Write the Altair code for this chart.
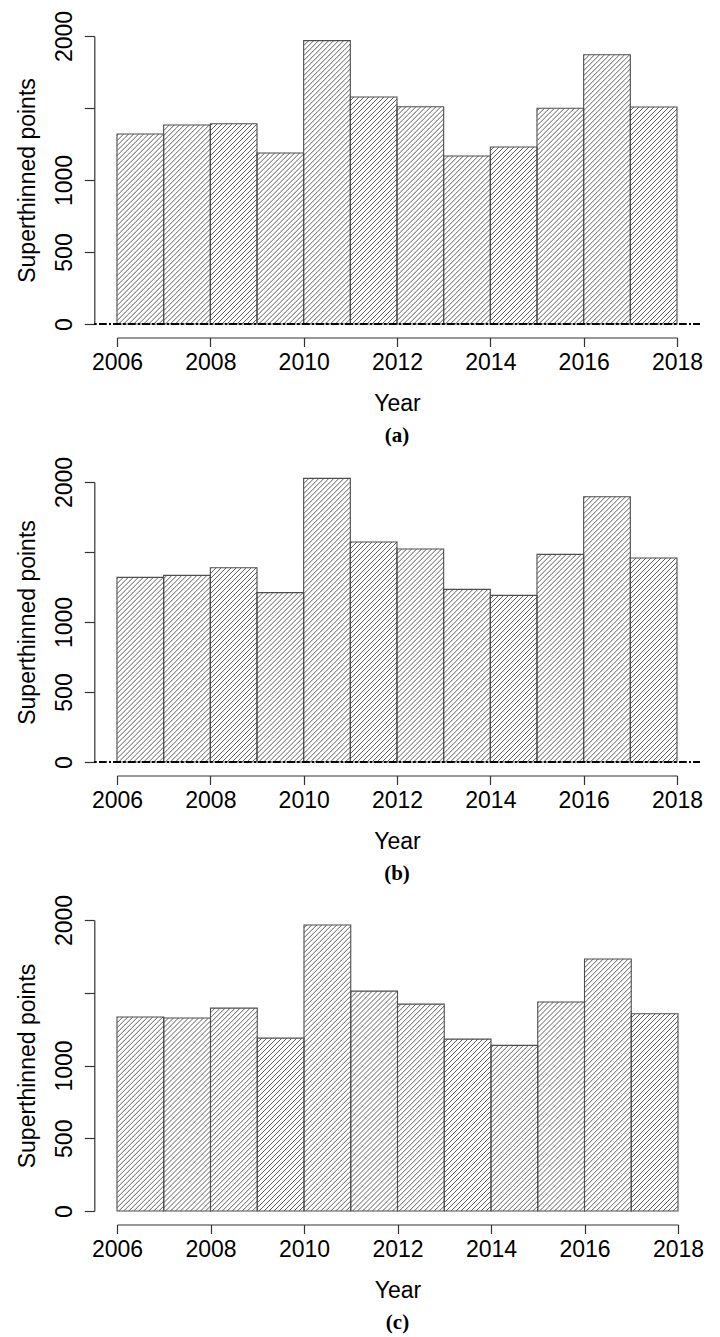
import altair as alt
import pandas as pd

# ---- data ----
years = [2006, 2007, 2008, 2009, 2010, 2011, 2012, 2013, 2014, 2015, 2016, 2017]
values_a = [1319, 1382, 1391, 1188, 1968, 1576, 1509, 1167, 1229, 1498, 1870, 1507]
values_b = [1319, 1333, 1388, 1210, 2026, 1571, 1521, 1233, 1190, 1483, 1895, 1457]
values_c = [1333, 1326, 1394, 1188, 1966, 1511, 1422, 1181, 1138, 1436, 1732, 1356]
x_ticks = [2006, 2008, 2010, 2012, 2014, 2016, 2018]
y_ticks = [0, 500, 1000, 1500, 2000]
captions = ["a", "b", "c"]

X_MIN, X_MAX = 2006, 2018
Y_MIN, Y_MAX = 0, 2000
HATCH_SPACING = 5.0  # px between hatch lines (horizontal)

FONT = "Liberation Sans"
INK = "#4d4d4d"


def panel(vals, letter, w, h, dash):
    df = pd.DataFrame({"year": years, "value": vals})
    df["end"] = df["year"] + 1
    kx = w / (X_MAX - X_MIN)
    ky = h / (Y_MAX - Y_MIN)

    xs = alt.Scale(domain=[X_MIN, X_MAX], nice=False, zero=False)
    ys = alt.Scale(domain=[Y_MIN, Y_MAX], nice=False, zero=False)
    xaxis = alt.Axis(values=x_ticks, format="d", offset=13.5, tickSize=9,
                     labelPadding=5, titlePadding=18, labelFlush=False,
                     labelOverlap=False, grid=False)
    yaxis = alt.Axis(values=y_ticks, format="d", offset=22.7, tickSize=10,
                     labelAngle=270, labelAlign="center", labelBaseline="alphabetic",
                     labelPadding=13, titlePadding=14, labelOverlap=False,
                     labelExpr="datum.value == 1500 ? '' : datum.label", grid=False)

    base = alt.Chart(df)
    s = HATCH_SPACING
    hatch = (
        base.transform_calculate(W=f"{kx}")
        .transform_calculate(H=f"datum.value * {ky}")
        .transform_calculate(k=f"sequence(0, ceil((datum.W + datum.H) / {s}) + 2)")
        .transform_flatten(["k"])
        .transform_calculate(c=f"-datum.W + datum.k * {s}")
        .transform_calculate(ulo="max(0, -datum.c)")
        .transform_calculate(uhi="min(datum.W, datum.H - datum.c)")
        .transform_filter("datum.ulo < datum.uhi")
        .transform_calculate(xa=f"datum.year + datum.ulo / {kx}")
        .transform_calculate(ya=f"(datum.ulo + datum.c) / {ky}")
        .transform_calculate(xb=f"datum.year + datum.uhi / {kx}")
        .transform_calculate(yb=f"(datum.uhi + datum.c) / {ky}")
        .mark_rule(color=INK, strokeWidth=0.9)
        .encode(
            x=alt.X("xa:Q", scale=xs, axis=xaxis, title="Year"),
            x2="xb:Q",
            y=alt.Y("ya:Q", scale=ys, axis=yaxis, title="Superthinned points"),
            y2="yb:Q",
        )
    )
    bars = base.mark_rect(fillOpacity=0, stroke=INK, strokeWidth=1.1).encode(
        x=alt.X("year:Q", scale=xs, axis=xaxis, title="Year"),
        x2="end:Q",
        y=alt.Y("value:Q", scale=ys, axis=yaxis, title="Superthinned points"),
        y2=alt.datum(0),
    )
    layers = [hatch, bars]
    if dash:
        ext = 0.04 * (X_MAX - X_MIN)
        line = base.mark_rule(color="black", strokeWidth=2, strokeDash=[1.5, 3, 7, 3]).encode(
            x=alt.datum(X_MIN - ext, scale=xs),
            x2=alt.datum(X_MAX + ext),
            y=alt.datum(0, scale=ys),
        )
        layers.append(line)
    return alt.layer(*layers).properties(
        width=w, height=h,
        title=alt.TitleParams(f"({letter})", orient="bottom", font="Liberation Serif",
                              fontSize=21, fontWeight="bold", color="black", offset=9),
    )


pa = panel(values_a, captions[0], 560, 288, True)
pb = panel(values_b, captions[1], 560, 280, True)
pc = panel(values_c, captions[2], 561, 291, False)

chart = (
    alt.vconcat(pa, pb, pc, spacing=10)
    .properties(padding={"top": 2, "left": 8, "right": 5, "bottom": 5})
    .configure_view(stroke=None)
    .configure_axis(labelFont=FONT, titleFont=FONT, labelFontSize=23, titleFontSize=23,
                    titleFontWeight="normal", labelColor="black", titleColor="black",
                    domainColor="#333333", tickColor="#333333", domainWidth=1.2, tickWidth=1.2)
    .configure_title(font="Liberation Serif")
)

chart.save("out.html", embed_options={"renderer": "svg", "actions": False})
